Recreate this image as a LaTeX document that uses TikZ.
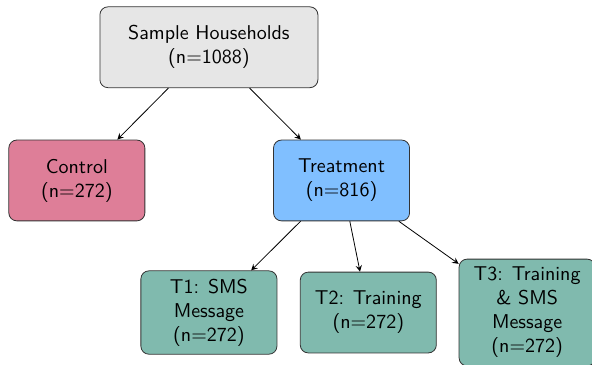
\documentclass[tikz,border=0pt]{standalone}
\usepackage{amsmath}
\usepackage{tikz}

\definecolor{ctrlpink}{RGB}{222,126,152}
\definecolor{treatblue}{RGB}{128,191,255}
\definecolor{armgreen}{RGB}{128,186,174}
\definecolor{samplegray}{RGB}{230,230,230}

\tikzset{
	box/.style={draw=black!80, rounded corners, align=center, font=\sffamily,
		minimum width=2.39cm, minimum height=1.42cm, inner sep=4pt},
	link/.style={->, >=stealth}
}

\begin{document}
\begin{tikzpicture}
		\useasboundingbox (0,0) rectangle (10.40,-6.40);
		
		\node[box, fill=samplegray, minimum width=3.83cm] (sample) at (3.67,-0.83) {Sample Households\\(n=1088)};
		
		\node[box, fill=ctrlpink] (control) at (1.35,-3.17) {Control\\(n=272)};
		\node[box, fill=treatblue] (treat) at (6.00,-3.17) {Treatment\\(n=816)};
		
		\node[box, fill=armgreen] (tone) at (3.67,-5.49) {T1: SMS\\Message\\(n=272)};
		\node[box, fill=armgreen] (ttwo) at (6.47,-5.49) {T2: Training\\(n=272)};
		\node[box, fill=armgreen] (tthree) at (9.26,-5.49) {T3: Training\\\& SMS\\Message\\(n=272)};
		
		\draw[link] (sample) -- (control);
		\draw[link] (sample) -- (treat);
		\draw[link] (treat) -- (tone);
		\draw[link] (treat) -- (ttwo);
		\draw[link] (treat) -- (tthree);

	\end{tikzpicture}
\end{document}
